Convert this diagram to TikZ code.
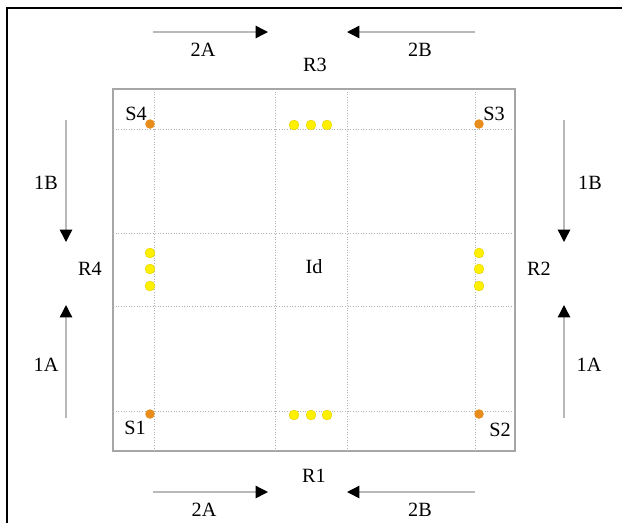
\documentclass[tikz,border=0pt]{standalone}
\usepackage{fontspec}
\setmainfont{Liberation Serif}
\usetikzlibrary{arrows.meta}

\definecolor{lampyel}{RGB}{255,240,0}
\definecolor{sensorg}{RGB}{232,140,28}

\begin{document}
\begin{tikzpicture}[x=0.2mm,y=-0.2mm,
  every node/.style={font=\fontsize{11.5}{13}\selectfont},
  grid/.style={gray!60,densely dotted,line width=0.5pt},
  flow/.style={gray!55,line width=0.8pt,-{Triangle[black,length=7pt,width=7pt]}},
  lamp/.style={circle,fill=lampyel,draw=lampyel!85!black,line width=0.2pt,inner sep=0pt,minimum size=2mm},
  sensor/.style={circle,fill=sensorg,inner sep=0pt,minimum size=1.9mm}]
  \useasboundingbox (0,0) rectangle (622,523);
  % frame
  \draw[line width=1.2pt] (7,523) -- (7,8) -- (622,8);
  % crossing
  \draw[gray!70,line width=0.6pt] (113,89) rectangle (515,451);
  \foreach \gx in {154,275,347,475} \draw[grid] (\gx,89) -- (\gx,451);
  \foreach \gy in {129,233,306,411} \draw[grid] (113,\gy) -- (515,\gy);
  \node at (314,267) {Id};
  % roads
  \node (r3) at (315,65) {R3};
  \node (r1) at (314,476) {R1};
  \node (r4) at (90,269) {R4};
  \node (r2) at (539,269) {R2};
  % sensors
  \node[sensor] (s4d) at (150,124) {};
  \node[sensor] (s3d) at (479,124) {};
  \node[sensor] (s1d) at (150,414) {};
  \node[sensor] (s2d) at (479,414) {};
  \node at (136,114) {S4};
  \node at (494,114) {S3};
  \node at (135,428) {S1};
  \node at (500,430) {S2};
  % lamps
  \foreach \lx in {294,311,327} {
    \node[lamp] at (\lx,125) {};
    \node[lamp] at (\lx,415) {};
  }
  \foreach \ly in {253,269,286} {
    \node[lamp] at (150,\ly) {};
    \node[lamp] at (479,\ly) {};
  }
  % flows
  \coordinate (t2a) at (153,32);  \coordinate (t2ae) at (268,32);
  \coordinate (t2b) at (475,32);  \coordinate (t2be) at (347,32);
  \coordinate (b2a) at (153,492); \coordinate (b2ae) at (268,492);
  \coordinate (b2b) at (475,492); \coordinate (b2be) at (347,492);
  \coordinate (l1b) at (66,120);  \coordinate (l1be) at (66,242);
  \coordinate (l1a) at (66,418);  \coordinate (l1ae) at (66,305);
  \coordinate (r1b) at (564,120); \coordinate (r1be) at (564,242);
  \coordinate (r1a) at (564,418); \coordinate (r1ae) at (564,305);
  \draw[flow] (t2a) -- (t2ae);
  \draw[flow] (t2b) -- (t2be);
  \draw[flow] (b2a) -- (b2ae);
  \draw[flow] (b2b) -- (b2be);
  \draw[flow] (l1b) -- (l1be);
  \draw[flow] (l1a) -- (l1ae);
  \draw[flow] (r1b) -- (r1be);
  \draw[flow] (r1a) -- (r1ae);
  \node at (203,50) {2A};
  \node at (420,50) {2B};
  \node at (204,510) {2A};
  \node at (420,510) {2B};
  \node at (46,183) {1B};
  \node at (46,365) {1A};
  \node at (590,183) {1B};
  \node at (589,365) {1A};
\end{tikzpicture}
\end{document}
